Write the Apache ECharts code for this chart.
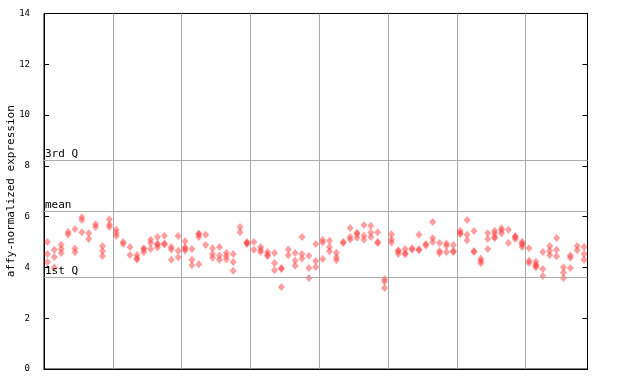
<!DOCTYPE html>
<html>
<head>
<meta charset="utf-8">
<script src="https://cdn.jsdelivr.net/npm/echarts@6/dist/echarts.min.js"></script>
<style>html,body{margin:0;padding:0;background:#fff;}#c{width:640px;height:384px;}</style>
</head>
<body>
<div id="c"></div>
<script>
// Expression values per sample column
const columnValues = [
  [5.0, 4.53, 4.21], [4.70, 4.41, 4.0], [4.89, 4.73, 4.57], [5.4, 5.3], [5.51, 4.75, 4.6],
  [5.98, 5.87, 5.39], [5.35, 5.12], [5.70, 5.59], [4.84, 4.65, 4.45], [5.9, 5.69, 5.59],
  [5.48, 5.36, 5.24], [5.0, 4.92], [4.80, 4.49], [4.49, 4.36, 4.31], [4.76, 4.72, 4.6],
  [5.09, 4.96, 4.73], [5.2, 4.93, 4.89, 4.78], [5.25, 4.94, 4.90], [4.8, 4.71, 4.3], [5.24, 4.66, 4.4],
  [5.03, 4.79, 4.74, 4.67], [4.73, 4.3, 4.09], [5.34, 5.30, 5.2, 4.13], [5.29, 4.88], [4.76, 4.53, 4.38],
  [4.8, 4.47, 4.3], [4.58, 4.45, 4.32], [4.53, 4.21, 3.87], [5.59, 5.39], [5.0, 4.96, 4.92],
  [5.0, 4.7], [4.8, 4.7, 4.61], [4.61, 4.5, 4.45], [4.57, 4.17, 3.89], [3.98, 3.94, 3.23],
  [4.71, 4.48], [4.57, 4.26, 4.07], [5.2, 4.53, 4.35], [4.46, 3.98, 3.58], [4.92, 4.25, 4.02],
  [5.08, 4.98, 4.33], [5.05, 4.8, 4.64], [4.58, 4.4, 4.28], [5.0, 4.96], [5.55, 5.2, 5.1],
  [5.37, 5.32, 5.17], [5.67, 5.25, 5.09], [5.64, 5.38, 5.2], [5.39, 5.0, 4.96], [3.54, 3.45, 3.19],
  [5.31, 5.1, 4.98], [4.68, 4.63, 4.53], [4.73, 4.56, 4.52], [4.76, 4.70], [5.29, 4.72, 4.68],
  [4.92, 4.86], [5.79, 5.16, 5.0], [4.96, 4.65, 4.56], [4.94, 4.85, 4.61], [4.88, 4.65, 4.61],
  [5.44, 5.35, 5.32], [5.87, 5.29, 5.07], [5.43, 4.65, 4.61], [4.34, 4.25, 4.16], [5.35, 5.12, 4.73],
  [5.44, 5.34, 5.2, 5.16], [5.54, 5.45, 5.35], [5.48, 4.96], [5.24, 5.2, 5.12], [5.01, 4.93, 4.9, 4.8],
  [4.76, 4.26, 4.17], [4.22, 4.12, 4.07, 4.01], [4.61, 3.94, 3.66], [4.84, 4.66, 4.49], [5.16, 4.7, 4.44],
  [4.01, 3.8, 3.58], [4.47, 4.38, 3.98], [4.84, 4.68], [4.8, 4.53, 4.3]
];
const quantileNames = ['3rd Q', 'mean', '1st Q'];
const quantileValues = [8.24, 6.22, 3.62];
const yTicks = [0, 2, 4, 6, 8, 10, 12, 14];
const groupSize = 10;

const points = [];
columnValues.forEach((vals, i) => vals.forEach(v => points.push([i + 0.5, v])));

const chart = echarts.init(document.getElementById('c'), null, {renderer: 'canvas'});
const yBase = {
  type: 'value', min: yTicks[0], max: yTicks[yTicks.length - 1], interval: 2,
  splitLine: {show: false},
  axisLine: {show: true, lineStyle: {color: '#000', width: 1}},
  axisTick: {show: true, inside: true, length: 5, lineStyle: {color: '#000'}}
};
chart.setOption({
  animation: false,
  grid: {left: 44, right: 52.5, top: 13.5, bottom: 15, containLabel: false, outerBoundsMode: 'none',
    show: true, borderColor: '#000', borderWidth: 1, backgroundColor: 'transparent'},
  xAxis: {
    type: 'value', min: 0, max: columnValues.length, interval: groupSize,
    axisLine: {show: true, lineStyle: {color: '#000'}},
    axisTick: {show: false}, axisLabel: {show: false},
    splitLine: {show: true, lineStyle: {color: '#aaaaaa', width: 1}}
  },
  yAxis: [
    Object.assign({}, yBase, {
      position: 'left',
      name: 'affy-normalized expression', nameLocation: 'middle', nameGap: 27, nameMoveOverlap: false,
      nameTextStyle: {fontFamily: 'DejaVu Sans Mono', fontSize: 11, color: '#000'},
      axisLabel: {show: true, margin: 14, fontFamily: 'DejaVu Sans Mono', fontSize: 9, color: '#000'}
    }),
    Object.assign({}, yBase, {position: 'right', axisLabel: {show: false}})
  ],
  series: [{
    type: 'scatter',
    data: points,
    symbol: 'diamond',
    symbolSize: [7, 8],
    itemStyle: {color: 'rgba(255,60,60,0.62)'},
    markLine: {
      silent: true, symbol: 'none',
      lineStyle: {color: '#aaaaaa', width: 1, type: 'solid'},
      label: {show: true, position: 'insideStartTop', formatter: '{b}', distance: [1, 0],
        fontFamily: 'DejaVu Sans Mono', fontSize: 11, color: '#000', padding: 0},
      data: quantileNames.map((n, i) => ({name: n, yAxis: quantileValues[i]}))
    }
  }]
});
</script>
</body>
</html>
